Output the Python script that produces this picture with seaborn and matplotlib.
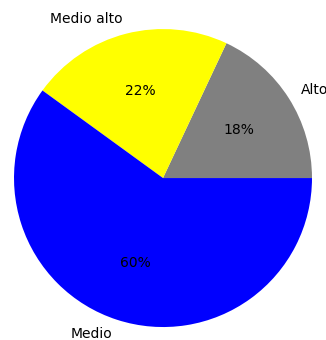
import matplotlib
matplotlib.use("Agg")
import matplotlib.pyplot as plt
import seaborn as sns

# data
labels = ["Alto", "Medio alto", "Medio"]
values = [18, 22, 60]
colors = sns.color_palette(["gray", "yellow", "blue"])

plt.rcParams['font.family'] = ['DejaVu Sans']

fig = plt.figure(figsize=(3.26, 3.40), dpi=100)
ax = fig.add_axes([0, 0, 1, 1])
ax.pie(values, labels=labels, colors=colors, autopct='%1.0f%%',
       textprops={'color': 'black'})
ax.set_aspect('equal')
ax.set_xlim(-1.094, 1.094)
ax.set_ylim(-1.087, 1.195)
ax.axis('off')

fig.savefig("out.png", dpi=100)
plt.close(fig)
